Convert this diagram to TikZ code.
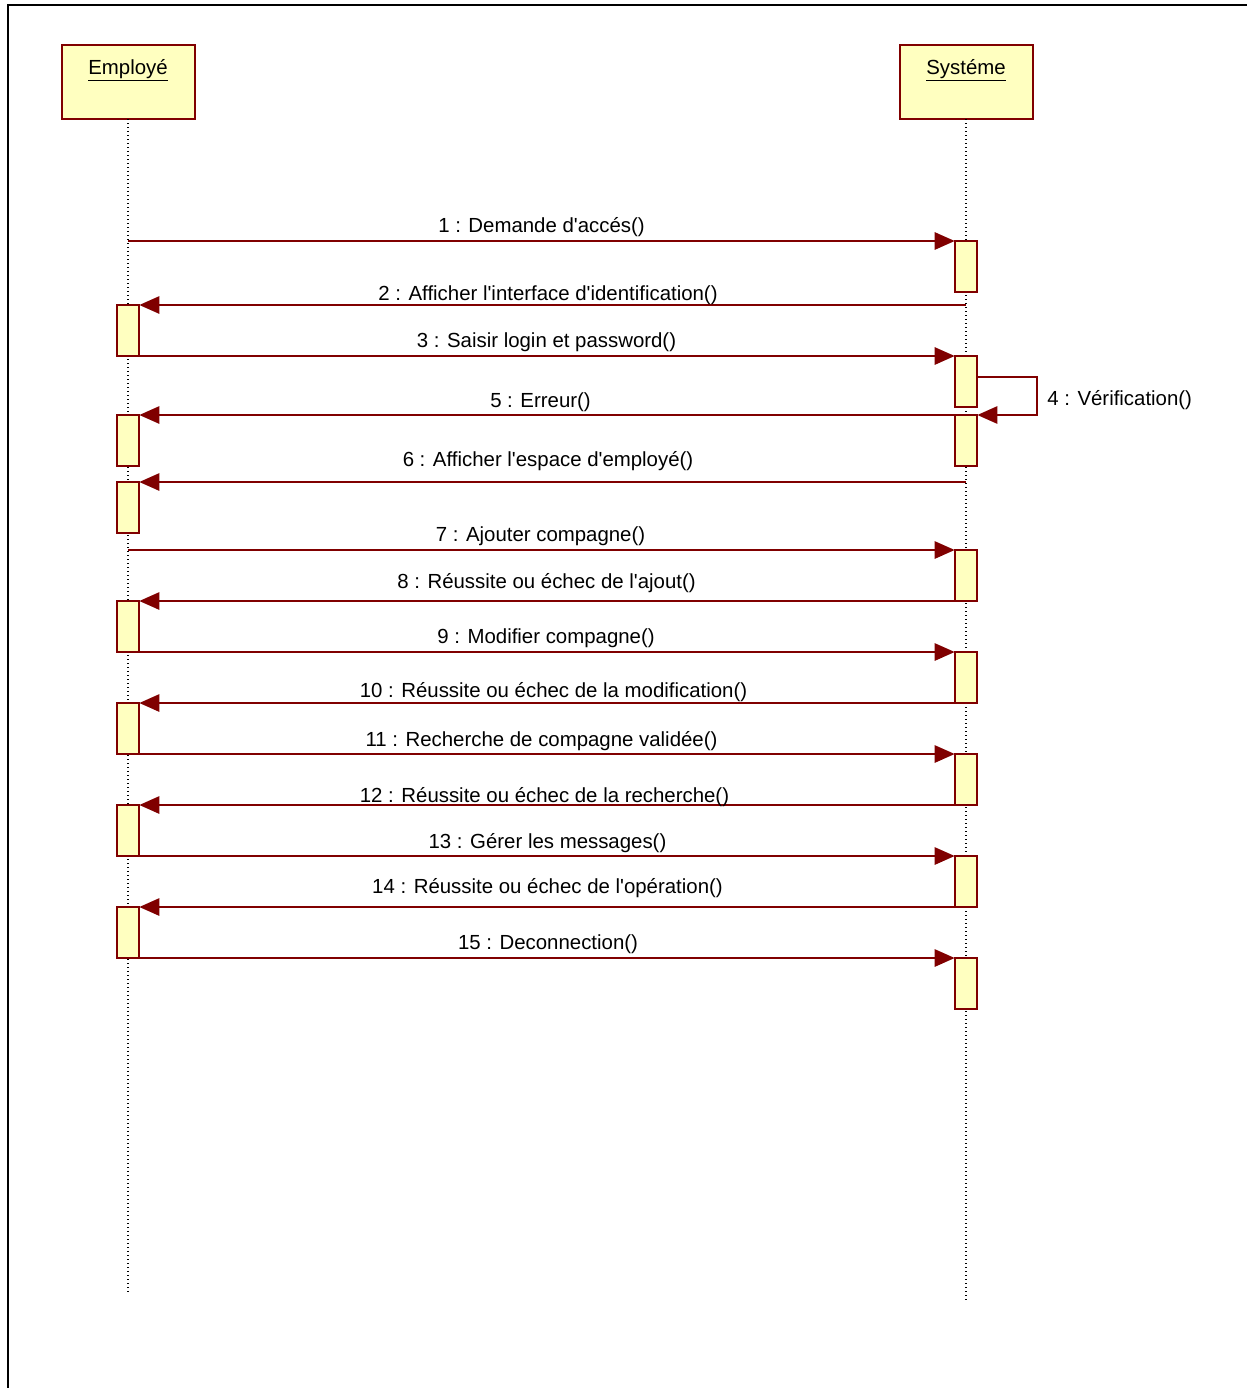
\documentclass[tikz,border=0pt]{standalone}
\usepackage{fontspec}
\setmainfont{Liberation Sans}[Ligatures=TeXOff]
\usetikzlibrary{arrows.meta}
\definecolor{umlred}{RGB}{128,0,0}
\definecolor{umlfill}{RGB}{255,255,192}

\begin{document}
\begin{tikzpicture}[x=0.75pt, y=-0.75pt,
        every node/.style={font=\fontsize{15.3}{18}\selectfont},
        actor/.style={draw=umlred, fill=umlfill, line width=1.5pt, minimum width=99.75pt,
            minimum height=55.5pt, anchor=north, inner sep=0pt, outer sep=0pt},
        act/.style={draw=umlred, fill=umlfill, line width=1.5pt, minimum width=17pt,
            minimum height=38.25pt, anchor=north, inner sep=0pt, outer sep=0pt},
        life/.style={line width=0.9pt, dash pattern=on 0.9pt off 2.1pt},
        msg/.style={umlred, line width=1.3pt, -{Triangle[length=15pt,width=13pt]}},
        lbl/.style={inner sep=0pt, yshift=-1.5pt}]
        \useasboundingbox (0,0) rectangle (1247,1388);
        % frame
        \draw[line width=2.2pt] (8,1388) -- (8,5) -- (1247,5);
        % actors
        \node[actor, label={[anchor=center, yshift=-18.75pt]north:\underline{Employé}}] (emp) at (128,45) {};
        \node[actor, label={[anchor=center, yshift=-18.75pt]north:\underline{Systéme}}] (sys) at (966,45) {};
        \coordinate (empend) at (128,1293);
        \coordinate (sysend) at (966,1302);
        \draw[life] (emp.south) -- (empend);
        \draw[life] (sys.south) -- (sysend);
        % activations
        \node[act] (s1) at (966,241) {};
        \node[act] (s2) at (966,356) {};
        \node[act] (s3) at (966,415) {};
        \node[act] (s4) at (966,550) {};
        \node[act] (s5) at (966,652) {};
        \node[act] (s6) at (966,754) {};
        \node[act] (s7) at (966,856) {};
        \node[act] (s8) at (966,958) {};
        \node[act] (e1) at (128,305) {};
        \node[act] (e2) at (128,415) {};
        \node[act] (e3) at (128,482) {};
        \node[act] (e4) at (128,601) {};
        \node[act] (e5) at (128,703) {};
        \node[act] (e6) at (128,805) {};
        \node[act] (e7) at (128,907) {};
        % messages
        \draw[msg] (emp.south |- s1.north) -- (s1.north west);
        \draw[msg] (sys.south |- e1.north) -- (e1.north east);
        \draw[msg] (e1.south east) -- (s2.north west);
        \draw[msg] ([yshift=-15.75pt]s2.north east) -- ++(60,0) |- (s3.north east);
        \draw[msg] (s3.north west) -- (e2.north east);
        \draw[msg] (sys.south |- e3.north) -- (e3.north east);
        \draw[msg] (emp.south |- s4.north) -- (s4.north west);
        \draw[msg] (s4.south west) -- (e4.north east);
        \draw[msg] (e4.south east) -- (s5.north west);
        \draw[msg] (s5.south west) -- (e5.north east);
        \draw[msg] (e5.south east) -- (s6.north west);
        \draw[msg] (s6.south west) -- (e6.north east);
        \draw[msg] (e6.south east) -- (s7.north west);
        \draw[msg] (s7.south west) -- (e7.north east);
        \draw[msg] (e7.south east) -- (s8.north west);
        % labels
        \node[lbl] (l1) at (541.5,225) {1 : Demande d'accés()};
        \node[lbl] (l2) at (548,293) {2 : Afficher l'interface d'identification()};
        \node[lbl] (l3) at (546.5,340) {3 : Saisir login et password()};
        \node[lbl, anchor=west] (l4) at (1047,398) {4 : Vérification()};
        \node[lbl] (l5) at (540.5,400) {5 : Erreur()};
        \node[lbl] (l6) at (548,459) {6 : Afficher l'espace d'employé()};
        \node[lbl] (l7) at (540.5,534) {7 : Ajouter compagne()};
        \node[lbl] (l8) at (546.5,581) {8 : Réussite ou échec de l'ajout()};
        \node[lbl] (l9) at (546,636) {9 : Modifier compagne()};
        \node[lbl] (l10) at (553.5,690) {10 : Réussite ou échec de la modification()};
        \node[lbl] (l11) at (541.5,739) {11 : Recherche de compagne validée()};
        \node[lbl] (l12) at (544.5,795) {12 : Réussite ou échec de la recherche()};
        \node[lbl] (l13) at (547.5,841) {13 : Gérer les messages()};
        \node[lbl] (l14) at (547.5,886) {14 : Réussite ou échec de l'opération()};
        \node[lbl] (l15) at (548,942) {15 : Deconnection()};
    \end{tikzpicture}
\end{document}
